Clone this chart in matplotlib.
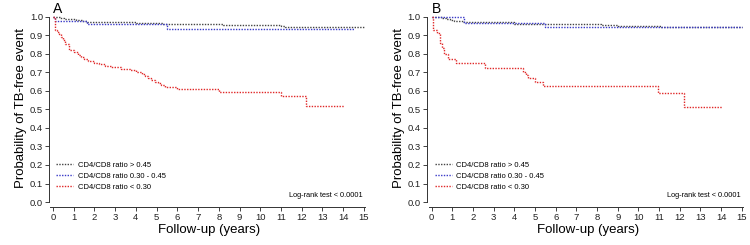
import matplotlib
matplotlib.use('Agg')
import matplotlib.pyplot as plt

plt.rcParams['font.family'] = ['Liberation Sans', 'DejaVu Sans']

# Kaplan-Meier step data (time in years, survival probability)
black_a_t = [0, 0.35, 0.55, 0.8, 1.1, 1.4, 1.62, 4.0, 5.3, 8.2, 9.4, 11.0, 11.2, 15.0]
black_a_s = [1.0, 0.995, 0.99, 0.985, 0.98, 0.977, 0.972, 0.967, 0.962, 0.957, 0.953, 0.949, 0.945, 0.945]
blue_a_t = [0, 0.08, 1.45, 1.62, 5.48, 14.5]
blue_a_s = [1.0, 0.978, 0.975, 0.96, 0.935, 0.935]
red_a_t = [0, 0.1, 0.2, 0.3, 0.4, 0.5, 0.6, 0.75, 1.0, 1.2, 1.35, 1.5, 1.7, 2.0, 2.2,
           2.5, 2.8, 3.3, 3.7, 4.0, 4.3, 4.45, 4.6, 4.75, 4.9, 5.05, 5.2, 5.4, 6.0,
           8.0, 11.0, 12.2, 14.05]
red_a_s = [1.0, 0.93, 0.92, 0.905, 0.89, 0.875, 0.855, 0.82, 0.81, 0.795, 0.785, 0.77,
           0.76, 0.752, 0.743, 0.735, 0.728, 0.72, 0.713, 0.703, 0.69, 0.68, 0.668,
           0.658, 0.648, 0.64, 0.63, 0.62, 0.608, 0.595, 0.57, 0.517, 0.517]

black_b_t = [0, 0.5, 0.7, 0.9, 1.1, 1.5, 4.0, 5.5, 8.2, 9.0, 11.0, 11.1, 15.0]
black_b_s = [1.0, 0.995, 0.99, 0.983, 0.975, 0.97, 0.963, 0.958, 0.955, 0.951, 0.948, 0.945, 0.945]
blue_b_t = [0, 1.58, 4.0, 5.48, 15.0]
blue_b_s = [1.0, 0.968, 0.967, 0.943, 0.943]
red_b_t = [0, 0.08, 0.24, 0.4, 0.48, 0.6, 0.77, 1.2, 2.58, 4.43, 4.55, 4.68, 5.0, 5.4,
           10.96, 12.2, 14.03]
red_b_s = [1.0, 0.928, 0.91, 0.856, 0.83, 0.80, 0.77, 0.748, 0.722, 0.70, 0.685, 0.668,
           0.65, 0.625, 0.588, 0.515, 0.515]

labels = ['CD4/CD8 ratio > 0.45', 'CD4/CD8 ratio 0.30 - 0.45', 'CD4/CD8 ratio < 0.30']
colors = ['#444444', '#3a3ac8', '#e02828']
x_ticks = list(range(0, 16))
y_ticks = [i / 10 for i in range(0, 11)]

panels = [
    ('A', [0.0679, 0.1678, 0.4229, 0.7792], 1.4,
     [(black_a_t, black_a_s), (blue_a_t, blue_a_s), (red_a_t, red_a_s)]),
    ('B', [0.5728, 0.1678, 0.4217, 0.7792], 2.1,
     [(black_b_t, black_b_s), (blue_b_t, blue_b_s), (red_b_t, red_b_s)]),
]

fig = plt.figure(figsize=(7.5, 2.45), dpi=100)

for letter, pos, left_off, curves in panels:
    ax = fig.add_axes(pos)
    for (t, s), c, lab in zip(curves, colors, labels):
        ax.plot(t, s, drawstyle='steps-post', color=c, lw=1.0,
                linestyle=(0, (1, 1)), label=lab)
    ax.set_xlim(-0.1, 15.2)
    ax.set_ylim(-0.01, 1.02)
    ax.set_xticks(x_ticks)
    ax.set_yticks(y_ticks)
    ax.set_yticklabels([f'{v:.1f}' for v in y_ticks])
    ax.tick_params(labelsize=6.8, length=2.8, width=0.6, pad=1.5, colors='#222222')
    for side in ['top', 'right']:
        ax.spines[side].set_visible(False)
    ax.spines['left'].set_position(('outward', left_off))
    ax.spines['bottom'].set_position(('outward', 2.2))
    ax.spines['left'].set_bounds(0, 1.0)
    ax.spines['bottom'].set_bounds(-0.15, 15.05)
    for side in ['left', 'bottom']:
        ax.spines[side].set_linewidth(0.7)
        ax.spines[side].set_color('#333333')
    ax.set_xlabel('Follow-up (years)', fontsize=9.5, labelpad=1.5)
    ax.set_ylabel('Probability of TB-free event', fontsize=9.5, labelpad=2)
    ax.text(0.0, 1.005, letter, fontsize=10, ha='left', va='bottom')
    ax.legend(loc='lower left', bbox_to_anchor=(0.0, 0.04), frameon=False,
              fontsize=5.5, handlelength=2.2, handletextpad=0.6, labelspacing=0.5,
              borderaxespad=0.3)
    ax.text(14.95, 0.015, 'Log-rank test < 0.0001', fontsize=5.3, ha='right', va='bottom')

fig.savefig('out.png', dpi=100)
